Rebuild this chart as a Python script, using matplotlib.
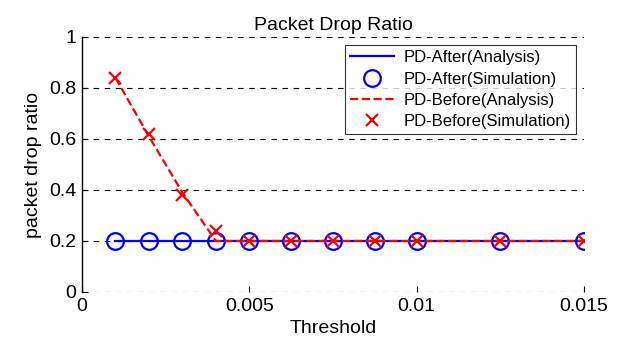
import numpy as np
import matplotlib.pyplot as plt

plt.rcParams['font.family'] = ['Liberation Sans', 'DejaVu Sans']

threshold = [0.001, 0.002, 0.003, 0.004, 0.005, 0.00625, 0.0075, 0.00875, 0.01, 0.0125, 0.015]
pd_after_analysis = [0.2, 0.2, 0.2, 0.2, 0.2, 0.2, 0.2, 0.2, 0.2, 0.2, 0.2]
pd_after_sim = [0.2, 0.2, 0.2, 0.2, 0.2, 0.2, 0.2, 0.2, 0.2, 0.2, 0.2]
pd_before_analysis = [0.84, 0.61, 0.39, 0.2, 0.2, 0.2, 0.2, 0.2, 0.2, 0.2, 0.2]
pd_before_sim = [0.84, 0.62, 0.38, 0.24, 0.2, 0.2, 0.2, 0.2, 0.2, 0.2, 0.2]

fig = plt.figure(figsize=(6.23, 3.43), dpi=100)
ax = fig.add_axes([0.1316, 0.1487, 0.806, 0.7435])

ax.plot(threshold, pd_after_analysis, '-', color='blue', lw=1.6, label='PD-After(Analysis)')
ax.plot(threshold, pd_after_sim, 'o', color='blue', mfc='none', ms=12, mew=1.6,
        label='PD-After(Simulation)')
ax.plot(threshold, pd_before_analysis, '--', color='red', lw=1.6, label='PD-Before(Analysis)')
ax.plot(threshold, pd_before_sim, 'x', color='red', ms=9, mew=1.6,
        label='PD-Before(Simulation)')

ax.set_xlim(0, 0.015)
ax.set_ylim(0, 1)
ax.set_xticks([0, 0.005, 0.01, 0.015])
ax.set_xticklabels(['0', '0.005', '0.01', '0.015'])
ax.set_yticks([0, 0.2, 0.4, 0.6, 0.8, 1])
ax.set_yticklabels(['0', '0.2', '0.4', '0.6', '0.8', '1'])
ax.tick_params(direction='in', labelsize=14, length=4, width=0.8, pad=4)
ax.yaxis.grid(True, linestyle=(0, (5, 5)), color='black', lw=0.8)
ax.set_axisbelow(True)

for s in ['top', 'right', 'bottom']:
    ax.spines[s].set_visible(False)
ax.spines['left'].set_linewidth(1.0)

ax.set_xlabel('Threshold', fontsize=14, labelpad=4)
ax.set_ylabel('packet drop ratio', fontsize=14, labelpad=5)
ax.set_title('Packet Drop Ratio', fontsize=14, pad=5)

leg = ax.legend(loc='upper right', fontsize=12, frameon=True, fancybox=False,
                edgecolor='black', borderaxespad=0.5, handlelength=2.6,
                labelspacing=0.38, borderpad=0.3, handletextpad=0.6)
leg.get_frame().set_linewidth(0.8)

fig.savefig('out.png', dpi=100)
